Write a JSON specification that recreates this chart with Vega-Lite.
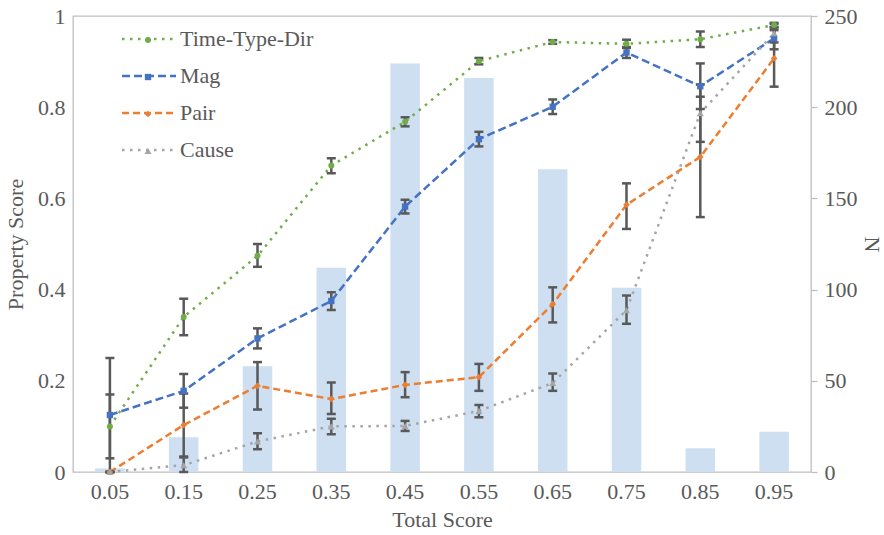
{
  "$schema": "https://vega.github.io/schema/vega-lite/v6.json",
  "width": 738,
  "height": 456,
  "autosize": "none",
  "padding": {"left": 73, "top": 16, "right": 73, "bottom": 63},
  "background": "white",
  "config": {
    "font": "Liberation Serif",
    "view": {"stroke": "#BFBFBF", "strokeWidth": 1.3},
    "axis": {
      "labelFont": "Liberation Serif", "labelFontSize": 22, "labelColor": "#595959",
      "titleFont": "Liberation Serif", "titleFontSize": 22, "titleColor": "#595959",
      "titleFontWeight": "normal", "domain": false, "grid": false, "ticks": false
    },
    "legend": {
      "labelFont": "Liberation Serif", "labelFontSize": 22, "labelColor": "#595959",
      "padding": 0, "titlePadding": 0
    }
  },
  "datasets": {
    "bars": [
      {"score": "0.05", "N": 2}, {"score": "0.15", "N": 19}, {"score": "0.25", "N": 58},
      {"score": "0.35", "N": 112}, {"score": "0.45", "N": 224}, {"score": "0.55", "N": 216},
      {"score": "0.65", "N": 166}, {"score": "0.75", "N": 101}, {"score": "0.85", "N": 13},
      {"score": "0.95", "N": 22}
    ],
    "lines": [
      {"score": "0.05", "series": "Time-Type-Dir", "marker": "m1", "value": 0.10, "lo": 0.03, "hi": 0.17},
      {"score": "0.15", "series": "Time-Type-Dir", "marker": "m1", "value": 0.34, "lo": 0.30, "hi": 0.38},
      {"score": "0.25", "series": "Time-Type-Dir", "marker": "m1", "value": 0.474, "lo": 0.45, "hi": 0.50},
      {"score": "0.35", "series": "Time-Type-Dir", "marker": "m1", "value": 0.672, "lo": 0.655, "hi": 0.688},
      {"score": "0.45", "series": "Time-Type-Dir", "marker": "m1", "value": 0.768, "lo": 0.758, "hi": 0.778},
      {"score": "0.55", "series": "Time-Type-Dir", "marker": "m1", "value": 0.901, "lo": 0.894, "hi": 0.908},
      {"score": "0.65", "series": "Time-Type-Dir", "marker": "m1", "value": 0.943, "lo": 0.939, "hi": 0.947},
      {"score": "0.75", "series": "Time-Type-Dir", "marker": "m1", "value": 0.939, "lo": 0.930, "hi": 0.948},
      {"score": "0.85", "series": "Time-Type-Dir", "marker": "m1", "value": 0.949, "lo": 0.932, "hi": 0.966},
      {"score": "0.95", "series": "Time-Type-Dir", "marker": "m1", "value": 0.980, "lo": 0.975, "hi": 0.985},
      {"score": "0.05", "series": "Mag", "marker": "m2", "value": 0.125, "lo": 0.0, "hi": 0.25},
      {"score": "0.15", "series": "Mag", "marker": "m2", "value": 0.178, "lo": 0.141, "hi": 0.215},
      {"score": "0.25", "series": "Mag", "marker": "m2", "value": 0.293, "lo": 0.271, "hi": 0.315},
      {"score": "0.35", "series": "Mag", "marker": "m2", "value": 0.375, "lo": 0.355, "hi": 0.394},
      {"score": "0.45", "series": "Mag", "marker": "m2", "value": 0.582, "lo": 0.567, "hi": 0.597},
      {"score": "0.55", "series": "Mag", "marker": "m2", "value": 0.730, "lo": 0.714, "hi": 0.746},
      {"score": "0.65", "series": "Mag", "marker": "m2", "value": 0.801, "lo": 0.785, "hi": 0.817},
      {"score": "0.75", "series": "Mag", "marker": "m2", "value": 0.920, "lo": 0.908, "hi": 0.932},
      {"score": "0.85", "series": "Mag", "marker": "m2", "value": 0.846, "lo": 0.796, "hi": 0.896},
      {"score": "0.95", "series": "Mag", "marker": "m2", "value": 0.951, "lo": 0.927, "hi": 0.975},
      {"score": "0.05", "series": "Pair", "marker": "m3", "value": 0.0, "lo": 0.0, "hi": 0.0},
      {"score": "0.15", "series": "Pair", "marker": "m3", "value": 0.103, "lo": 0.034, "hi": 0.172},
      {"score": "0.25", "series": "Pair", "marker": "m3", "value": 0.189, "lo": 0.137, "hi": 0.241},
      {"score": "0.35", "series": "Pair", "marker": "m3", "value": 0.160, "lo": 0.127, "hi": 0.196},
      {"score": "0.45", "series": "Pair", "marker": "m3", "value": 0.191, "lo": 0.164, "hi": 0.219},
      {"score": "0.55", "series": "Pair", "marker": "m3", "value": 0.208, "lo": 0.178, "hi": 0.237},
      {"score": "0.65", "series": "Pair", "marker": "m3", "value": 0.368, "lo": 0.328, "hi": 0.405},
      {"score": "0.75", "series": "Pair", "marker": "m3", "value": 0.586, "lo": 0.533, "hi": 0.633},
      {"score": "0.85", "series": "Pair", "marker": "m3", "value": 0.691, "lo": 0.559, "hi": 0.823},
      {"score": "0.95", "series": "Pair", "marker": "m3", "value": 0.907, "lo": 0.845, "hi": 0.969},
      {"score": "0.05", "series": "Cause", "marker": "m4", "value": 0.0, "lo": 0.0, "hi": 0.0},
      {"score": "0.15", "series": "Cause", "marker": "m4", "value": 0.015, "lo": 0.0, "hi": 0.032},
      {"score": "0.25", "series": "Cause", "marker": "m4", "value": 0.067, "lo": 0.050, "hi": 0.085},
      {"score": "0.35", "series": "Cause", "marker": "m4", "value": 0.100, "lo": 0.083, "hi": 0.117},
      {"score": "0.45", "series": "Cause", "marker": "m4", "value": 0.101, "lo": 0.090, "hi": 0.112},
      {"score": "0.55", "series": "Cause", "marker": "m4", "value": 0.134, "lo": 0.120, "hi": 0.147},
      {"score": "0.65", "series": "Cause", "marker": "m4", "value": 0.195, "lo": 0.178, "hi": 0.216},
      {"score": "0.75", "series": "Cause", "marker": "m4", "value": 0.355, "lo": 0.325, "hi": 0.387},
      {"score": "0.85", "series": "Cause", "marker": "m4", "value": 0.787, "lo": 0.724, "hi": 0.850},
      {"score": "0.95", "series": "Cause", "marker": "m4", "value": 0.962, "lo": 0.942, "hi": 0.982}
    ]
  },
  "layer": [
    {
      "data": {"name": "bars"},
      "mark": {"type": "bar", "color": "#CDDFF1", "width": {"band": 0.4}},
      "encoding": {
        "x": {
          "field": "score", "type": "ordinal",
          "scale": {"paddingInner": 0, "paddingOuter": 0},
          "axis": {"title": "Total Score", "labelAngle": 0, "labelPadding": 9, "titlePadding": 7}
        },
        "y": {
          "field": "N", "type": "quantitative",
          "scale": {"domain": [0, 250]},
          "axis": {
            "orient": "right", "title": "N", "values": [0, 50, 100, 150, 200, 250],
            "ticks": true, "tickSize": 6, "tickColor": "#BFBFBF", "tickWidth": 1.3,
            "labelPadding": 7, "titlePadding": 2
          }
        }
      }
    },
    {
      "data": {"name": "lines"},
      "layer": [
        {
          "mark": {"type": "line", "strokeWidth": 2.5, "strokeCap": "butt"},
          "encoding": {
            "x": {"field": "score", "type": "ordinal"},
            "y": {
              "field": "value", "type": "quantitative",
              "scale": {"domain": [0, 1]},
              "axis": {"title": "Property Score", "values": [0, 0.2, 0.4, 0.6, 0.8, 1], "format": "~g", "labelPadding": 8, "titlePadding": 10}
            },
            "color": {
              "field": "series", "type": "nominal",
              "scale": {"domain": ["Time-Type-Dir", "Mag", "Pair", "Cause"], "range": ["#70AD47", "#4472C4", "#ED7D31", "#A5A5A5"]},
              "legend": {
                "title": null, "orient": "none", "legendX": 65, "legendY": 12,
                "symbolType": "M-4.5,0L4.5,0", "symbolSize": 144, "symbolStrokeWidth": 2.5,
                "labelOffset": 20, "rowPadding": 15
              }
            },
            "strokeDash": {
              "field": "series", "type": "nominal",
              "scale": {"domain": ["Time-Type-Dir", "Mag", "Pair", "Cause"], "range": [[2.5, 5.5], [8, 4], [7, 4], [2.5, 5.5]]}
            }
          }
        },
        {
          "mark": {"type": "rule", "color": "#595959", "strokeWidth": 2.5},
          "encoding": {
            "x": {"field": "score", "type": "ordinal"},
            "y": {"field": "lo", "type": "quantitative"},
            "y2": {"field": "hi"}
          }
        },
        {
          "mark": {"type": "tick", "color": "#595959", "size": 9, "thickness": 2.5, "opacity": 1},
          "encoding": {
            "x": {"field": "score", "type": "ordinal"},
            "y": {"field": "lo", "type": "quantitative"}
          }
        },
        {
          "mark": {"type": "tick", "color": "#595959", "size": 9, "thickness": 2.5, "opacity": 1},
          "encoding": {
            "x": {"field": "score", "type": "ordinal"},
            "y": {"field": "hi", "type": "quantitative"}
          }
        },
        {
          "mark": {"type": "point", "filled": true, "opacity": 1, "strokeWidth": 0},
          "encoding": {
            "x": {"field": "score", "type": "ordinal"},
            "y": {"field": "value", "type": "quantitative"},
            "fill": {
              "field": "marker", "type": "nominal",
              "scale": {"domain": ["m1", "m2", "m3", "m4"], "range": ["#70AD47", "#4472C4", "#ED7D31", "#A5A5A5"]},
              "legend": {
                "title": null, "orient": "none", "legendX": 64, "legendY": 13,
                "labelExpr": "''", "rowPadding": 15, "labelOffset": 0
              }
            },
            "shape": {
              "field": "marker", "type": "nominal",
              "scale": {"domain": ["m1", "m2", "m3", "m4"], "range": ["circle", "square", "diamond", "triangle-up"]}
            },
            "size": {
              "field": "marker", "type": "nominal",
              "scale": {"domain": ["m1", "m2", "m3", "m4"], "range": [36, 49, 22, 26]}
            }
          }
        }
      ]
    }
  ],
  "resolve": {"scale": {"y": "independent"}}
}
